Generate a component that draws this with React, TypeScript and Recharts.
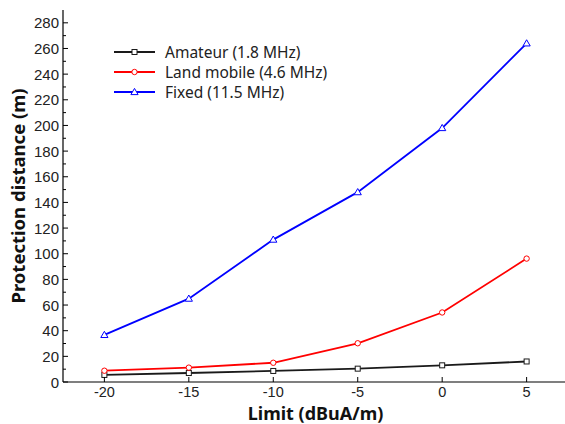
import React from "react";
import { LineChart, Line, XAxis, YAxis, Legend } from "recharts";

// values
const limits = [-20, -15, -10, -5, 0, 5];
const amateur = [5.5, 7, 8.6, 10.4, 13, 16];
const landMobile = [8.8, 11.2, 15, 30.2, 54.2, 96.2];
const fixed = [36.7, 65, 111, 148, 198, 264];

const xTicks = [-20, -15, -10, -5, 0, 5];
const yTicks = [0, 10, 20, 30, 40, 50, 60, 70, 80, 90, 100, 110, 120, 130, 140, 150, 160, 170, 180, 190, 200, 210, 220, 230, 240, 250, 260, 270, 280];

const data = limits.map((x, i) => ({
  limit: x,
  amateur: amateur[i],
  landMobile: landMobile[i],
  fixed: fixed[i],
}));

const series = [
  { key: "amateur", name: "Amateur (1.8 MHz)", color: "#1a1a1a", shape: "square" },
  { key: "landMobile", name: "Land mobile (4.6 MHz)", color: "#ff0000", shape: "circle" },
  { key: "fixed", name: "Fixed (11.5 MHz)", color: "#0000ff", shape: "triangle" },
];

const TICK_FONT = "'Liberation Sans', Arial, sans-serif";
const TITLE_FONT = "'Noto Sans', 'Open Sans', sans-serif";
const LEFT_MARGIN = 4;

function Marker({ cx, cy, shape, color }: any) {
  if (cx == null || cy == null) return null;
  if (shape === "square") {
    return <rect x={cx - 2.5} y={cy - 2.5} width={5} height={5} fill="#fff" stroke={color} strokeWidth={1} />;
  }
  if (shape === "circle") {
    return <circle cx={cx} cy={cy} r={2.7} fill="#fff" stroke={color} strokeWidth={1} />;
  }
  return (
    <polygon
      points={`${cx},${cy - 3.6} ${cx - 3.6},${cy + 2.6} ${cx + 3.6},${cy + 2.6}`}
      fill="#fff"
      stroke={color}
      strokeWidth={1}
    />
  );
}

function LeftTick(props: any) {
  const { x, y, payload } = props;
  const axisX = x + LEFT_MARGIN;
  const major = payload.value % 20 === 0;
  return (
    <g>
      <line x1={axisX} x2={axisX + (major ? 5 : 3)} y1={y} y2={y} stroke="#000" />
      {major && (
        <text x={x} y={y + 5.5} textAnchor="end" fontSize={15} fontFamily={TICK_FONT} fill="#222">
          {payload.value}
        </text>
      )}
    </g>
  );
}

function RightTick(props: any) {
  const { x, y, payload } = props;
  const major = payload.value % 20 === 0;
  return <line x1={x} x2={x - (major ? 5 : 3)} y1={y} y2={y} stroke="#000" />;
}

function BottomTick(props: any) {
  const { x, y, payload } = props;
  return (
    <g>
      <line x1={x} x2={x} y1={y} y2={y - 5} stroke="#000" />
      <text x={x} y={y + 15} textAnchor="middle" fontSize={14.5} fontFamily={TICK_FONT} fill="#222">
        {payload.value}
      </text>
    </g>
  );
}

function TopTick(props: any) {
  const { x, y } = props;
  return <line x1={x} x2={x} y1={y} y2={y + 5} stroke="#000" />;
}

function LegendBox() {
  return (
    <svg width={270} height={66} style={{ overflow: "visible" }}>
      {series.map((s, i) => {
        const cy = 10 + i * 20;
        return (
          <g key={s.key}>
            <line x1={4} x2={45} y1={cy} y2={cy} stroke={s.color} strokeWidth={1.8} />
            <Marker cx={24.5} cy={cy} shape={s.shape} color={s.color} />
            <text x={55} y={cy + 5.5} fontSize={15.5} fontFamily={TITLE_FONT} fill="#222">
              {s.name}
            </text>
          </g>
        );
      })}
    </svg>
  );
}

export default function App() {
  return (
    <div
      style={{
        position: "absolute",
        left: 0,
        top: 0,
        width: 565,
        height: 424,
        overflow: "hidden",
        background: "#fff",
      }}
    >
      <LineChart width={572} height={424} data={data} margin={{ top: 10, right: 4, bottom: 0, left: 0 }}>
        <XAxis
          dataKey="limit"
          type="number"
          domain={[-22.45, 7.45]}
          ticks={xTicks}
          tickSize={0}
          tickMargin={0}
          tickLine={false}
          tick={(p: any) => <BottomTick {...p} />}
          height={42}
          stroke="#000"
          strokeWidth={1.2}
          interval={0}
          label={(p: any) => {
            const vb = p.viewBox;
            return (
              <text
                x={vb.x + vb.width / 2}
                y={vb.y + 38}
                textAnchor="middle"
                fontSize={18}
                fontWeight="bold"
                fontFamily={TITLE_FONT}
                fill="#111"
              >
                Limit (dBuA/m)
              </text>
            );
          }}
        />
        <XAxis
          xAxisId="top"
          dataKey="limit"
          type="number"
          orientation="top"
          domain={[-22.45, 7.45]}
          ticks={xTicks}
          tickSize={0}
          tickMargin={0}
          tickLine={false}
          tick={(p: any) => <TopTick {...p} />}
          height={0}
          stroke="#000"
          strokeWidth={1.2}
          interval={0}
        />
        <YAxis
          type="number"
          domain={[0, 290]}
          ticks={yTicks}
          tickSize={0}
          tickMargin={LEFT_MARGIN}
          tickLine={false}
          tick={(p: any) => <LeftTick {...p} />}
          width={63}
          stroke="#000"
          strokeWidth={1.2}
          interval={0}
          label={(p: any) => {
            const vb = p.viewBox;
            const cx = 17;
            const cy = vb.y + vb.height / 2;
            return (
              <text
                x={cx}
                y={cy}
                transform={`rotate(-90 ${cx} ${cy})`}
                textAnchor="middle"
                dominantBaseline="central"
                fontSize={18.5}
                fontWeight="bold"
                fontFamily={TITLE_FONT}
                fill="#111"
              >
                Protection distance (m)
              </text>
            );
          }}
        />
        <YAxis
          yAxisId="right"
          orientation="right"
          type="number"
          domain={[0, 290]}
          ticks={yTicks}
          tickSize={0}
          tickMargin={0}
          tickLine={false}
          tick={(p: any) => <RightTick {...p} />}
          width={0}
          stroke="#000"
          strokeWidth={1.2}
          interval={0}
        />
        <Legend
          layout="horizontal"
          verticalAlign="middle"
          content={() => <LegendBox />}
          wrapperStyle={{ left: 110, top: 42, width: 270 }}
        />
        {series.map((s) => (
          <Line
            key={s.key}
            dataKey={s.key}
            name={s.name}
            type="linear"
            stroke={s.color}
            strokeWidth={1.8}
            isAnimationActive={false}
            dot={(p: any) => <Marker key={`${s.key}-${p.index}`} cx={p.cx} cy={p.cy} shape={s.shape} color={s.color} />}
            activeDot={false}
          />
        ))}
      </LineChart>
    </div>
  );
}
